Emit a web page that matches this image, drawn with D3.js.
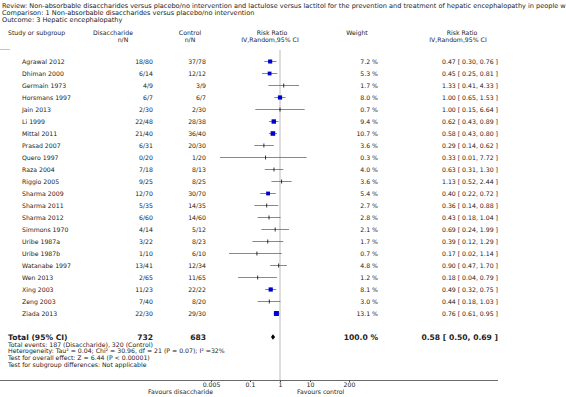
<!DOCTYPE html>
<html>
<head>
<meta charset="utf-8">
<script src="https://cdn.jsdelivr.net/npm/d3@7"></script>
<style>
  body { margin: 0; background: #fff; overflow: hidden; }
  svg text { font-family: "DejaVu Sans", Verdana, sans-serif; fill: #222; }
</style>
</head>
<body>
<div id="chart"></div>
<script>
var width = 566;
var height = 397;

// study data
var studies = ["Agrawal 2012", "Dhiman 2000", "Germain 1973", "Horsmans 1997", "Jain 2013", "Li 1999",
  "Mittal 2011", "Prasad 2007", "Quero 1997", "Raza 2004", "Riggio 2005", "Sharma 2009", "Sharma 2011",
  "Sharma 2012", "Simmons 1970", "Uribe 1987a", "Uribe 1987b", "Watanabe 1997", "Wen 2013", "Xing 2003",
  "Zeng 2003", "Ziada 2013"];
var dEvents = [18, 6, 4, 6, 2, 22, 21, 6, 0, 7, 9, 12, 5, 6, 4, 3, 1, 13, 2, 11, 7, 22];
var dTotal  = [80, 14, 9, 7, 30, 48, 40, 31, 20, 18, 25, 70, 35, 60, 14, 22, 10, 41, 65, 23, 40, 30];
var cEvents = [37, 12, 3, 6, 2, 28, 36, 20, 1, 8, 8, 30, 14, 14, 5, 8, 6, 12, 11, 22, 8, 29];
var cTotal  = [78, 12, 9, 7, 30, 38, 40, 30, 20, 13, 25, 70, 35, 60, 12, 23, 10, 34, 65, 22, 20, 30];
var weights = [7.2, 5.3, 1.7, 8.0, 0.7, 9.4, 10.7, 3.6, 0.3, 4.0, 3.6, 5.4, 2.7, 2.8, 2.1, 1.7, 0.7, 4.8, 1.2, 8.1, 3.0, 13.1];
var rr      = [0.47, 0.45, 1.33, 1.00, 1.00, 0.62, 0.58, 0.29, 0.33, 0.63, 1.13, 0.40, 0.36, 0.43, 0.69, 0.39, 0.17, 0.90, 0.18, 0.49, 0.44, 0.76];
var ciLow   = [0.30, 0.25, 0.41, 0.65, 0.15, 0.43, 0.43, 0.14, 0.01, 0.31, 0.52, 0.22, 0.14, 0.18, 0.24, 0.12, 0.02, 0.47, 0.04, 0.32, 0.18, 0.61];
var ciHigh  = [0.76, 0.81, 4.33, 1.53, 6.64, 0.89, 0.80, 0.62, 7.72, 1.30, 2.44, 0.72, 0.88, 1.04, 1.99, 1.29, 1.14, 1.70, 0.79, 0.75, 1.03, 0.95];

var total = { dN: 732, cN: 683, weight: 100.0, rr: 0.58, lo: 0.50, hi: 0.69 };
var tickValues = [0.005, 0.1, 1, 10, 200];

// the first line runs past the right edge in the original, it gets clipped there
var headerLines = [
  "Review:  Non-absorbable disaccharides versus placebo/no intervention and lactulose versus lactitol for the prevention and treatment of hepatic encephalopathy in people w",
  "Comparison:  1 Non-absorbable disaccharides versus placebo/no intervention",
  "Outcome:  3 Hepatic encephalopathy"
];
var footLines = [
  "Total events: 187 (Disaccharide), 320 (Control)",
  "Heterogeneity: Tau\u00b2 = 0.04; Chi\u00b2 = 30.96, df = 21 (P = 0.07); I\u00b2 =32%",
  "Test for overall effect: Z = 6.44 (P < 0.00001)",
  "Test for subgroup differences: Not applicable"
];

var svg = d3.select("#chart")
    .append("svg")
    .attr("width", width)
    .attr("height", height);

var fs = 6.2;
var f2 = function(v) { return v.toFixed(2); };

var x = d3.scaleLog()
    .domain([0.005, 200])
    .range([211, 349]);

var y = d3.scaleLinear()
    .domain([0, 1])
    .range([61.5, 73.5]);

// title block
svg.selectAll("text.head")
    .data(headerLines)
    .enter()
    .append("text")
    .attr("class", "head")
    .attr("x", 2)
    .attr("y", function(d, i) { return 7.5 + i * 7; })
    .style("font-size", "6.55px")
    .text(function(d) { return d; });

// column headers
var cols = [
  { t: "Study or subgroup", x: 8, y: 35, a: "start" },
  { t: "Disaccharide", x: 113, y: 35, a: "middle" },
  { t: "n/N", x: 123, y: 42, a: "middle" },
  { t: "Control", x: 190, y: 35, a: "middle" },
  { t: "n/N", x: 190, y: 42, a: "middle" },
  { t: "Risk Ratio", x: 272, y: 35, a: "middle" },
  { t: "IV,Random,95% CI", x: 270, y: 42, a: "middle" },
  { t: "Weight", x: 357, y: 35, a: "middle" },
  { t: "Risk Ratio", x: 462, y: 35, a: "middle" },
  { t: "IV,Random,95% CI", x: 458, y: 42, a: "middle" }
];
svg.selectAll("text.col")
    .data(cols)
    .enter()
    .append("text")
    .attr("class", "col")
    .attr("x", function(d) { return d.x; })
    .attr("y", function(d) { return d.y; })
    .attr("text-anchor", function(d) { return d.a; })
    .style("font-size", fs + "px")
    .text(function(d) { return d.t; });

svg.append("line")
    .attr("x1", 0).attr("x2", 10)
    .attr("y1", 49.5).attr("y2", 49.5)
    .attr("stroke", "#999").attr("stroke-width", 0.6);

// line of no effect
svg.append("line")
    .attr("x1", x(1)).attr("x2", x(1))
    .attr("y1", 50).attr("y2", 380.5)
    .attr("stroke", "#ddd")
    .attr("stroke-width", 2);

var rows = svg.append("g");
var idx = d3.range(studies.length);

var row = rows.selectAll("g")
    .data(idx)
    .enter()
    .append("g")
    .attr("transform", function(i) { return "translate(0," + y(i) + ")"; });

function addText(sel, xp, anchor, fn) {
  sel.append("text")
    .attr("x", xp)
    .attr("y", 2.2)
    .attr("text-anchor", anchor)
    .style("font-size", fs + "px")
    .text(fn);
}

addText(row, 22, "start", function(i) { return studies[i]; });
addText(row, 153, "end", function(i) { return dEvents[i] + "/" + dTotal[i]; });
addText(row, 206, "end", function(i) { return cEvents[i] + "/" + cTotal[i]; });
addText(row, 378, "end", function(i) { return weights[i].toFixed(1) + " %"; });
addText(row, 498, "end", function(i) { return f2(rr[i]) + " [ " + f2(ciLow[i]) + ", " + f2(ciHigh[i]) + " ]"; });

row.append("line")
    .attr("x1", function(i) { return x(ciLow[i]); })
    .attr("x2", function(i) { return x(ciHigh[i]); })
    .attr("y1", 0).attr("y2", 0)
    .attr("stroke", "#555")
    .attr("stroke-width", 0.7);

// small studies only get a tick, heavier ones a blue box
var boxSize = function(i) { return 3 + weights[i] * 0.15; };

row.filter(function(i) { return weights[i] >= 5; })
    .append("rect")
    .attr("x", function(i) { return x(rr[i]) - boxSize(i) / 2; })
    .attr("y", function(i) { return -boxSize(i) / 2; })
    .attr("width", boxSize)
    .attr("height", boxSize)
    .attr("fill", "#0000cc");

row.filter(function(i) { return weights[i] < 5; })
    .append("line")
    .attr("x1", function(i) { return x(rr[i]); })
    .attr("x2", function(i) { return x(rr[i]); })
    .attr("y1", -2).attr("y2", 2)
    .attr("stroke", "#000")
    .attr("stroke-width", 0.8);

// total row
var ty = 337;
var tot = svg.append("g").attr("transform", "translate(0," + ty + ")");
var bold = [
  { t: "Total (95% CI)", x: 8, a: "start" },
  { t: total.dN, x: 153, a: "end" },
  { t: total.cN, x: 206, a: "end" },
  { t: total.weight.toFixed(1) + " %", x: 378, a: "end" },
  { t: f2(total.rr) + " [ " + f2(total.lo) + ", " + f2(total.hi) + " ]", x: 498, a: "end" }
];
tot.selectAll("text")
    .data(bold)
    .enter()
    .append("text")
    .attr("x", function(d) { return d.x; })
    .attr("y", 2.6)
    .attr("text-anchor", function(d) { return d.a; })
    .style("font-size", "7.6px")
    .style("font-weight", "bold")
    .text(function(d) { return d.t; });

tot.append("path")
    .attr("d", "M" + x(total.lo) + ",0L" + x(total.rr) + ",-2.8L" + x(total.hi) + ",0L" + x(total.rr) + ",2.8Z")
    .attr("fill", "#000");

svg.selectAll("text.foot")
    .data(footLines)
    .enter()
    .append("text")
    .attr("class", "foot")
    .attr("x", 8)
    .attr("y", function(d, i) { return 346.5 + i * 6.9; })
    .style("font-size", fs + "px")
    .text(function(d) { return d; });

// axis
var axisY = 380.5;
svg.append("line")
    .attr("x1", 0).attr("x2", 498)
    .attr("y1", axisY).attr("y2", axisY)
    .attr("stroke", "#444")
    .attr("stroke-width", 0.8);

var axis = svg.append("g")
    .attr("transform", "translate(0," + axisY + ")")
    .call(d3.axisBottom(x)
      .tickValues(tickValues)
      .tickFormat(function(d) { return String(d); })
      .tickSize(1.6));
axis.select(".domain").remove();
axis.selectAll("line").attr("stroke", "#444");
axis.selectAll("text")
    .attr("y", 6.6)
    .attr("dy", null)
    .style("font-size", fs + "px")
    .attr("fill", "#222");

svg.append("text")
    .attr("x", 213).attr("y", 394.3)
    .attr("text-anchor", "end")
    .style("font-size", fs + "px")
    .text("Favours disaccharide");
svg.append("text")
    .attr("x", 297).attr("y", 394.3)
    .style("font-size", fs + "px")
    .text("Favours control");
</script>
</body>
</html>
